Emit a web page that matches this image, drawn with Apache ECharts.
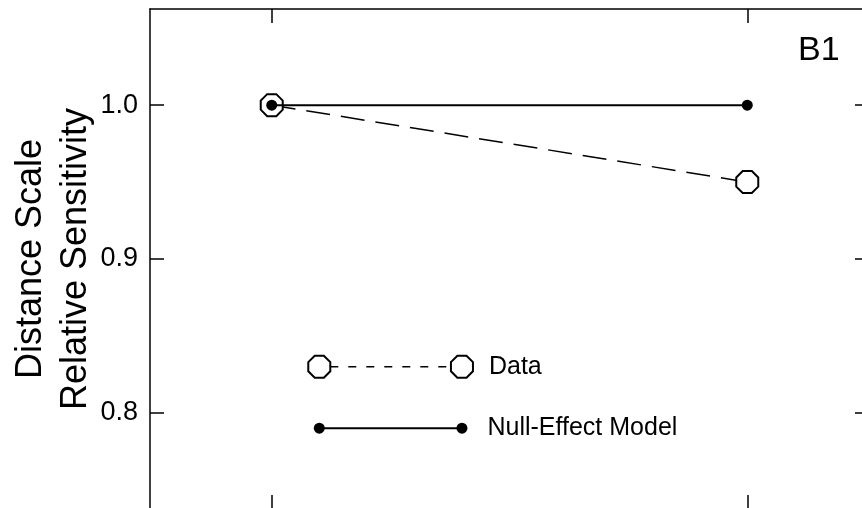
<!DOCTYPE html>
<html>
<head>
<meta charset="utf-8">
<script src="https://cdn.jsdelivr.net/npm/echarts@6/dist/echarts.min.js"></script>
<style>html,body{margin:0;padding:0;background:#fff;}#c{width:862px;height:508px;}</style>
</head>
<body>
<div id="c"></div>
<script>
// ---- data ----
const conditions = [1, 2];
const dataValues = [1.0, 0.95];
const nullValues = [1.0, 1.0];
const yTicks = [0.8, 0.9, 1.0];
const xTicks = [1, 2];
const legendX = [1.1, 1.4];
const legendDataY = [0.83, 0.83];
const legendNullY = [0.79, 0.79];
const yTitle = 'Distance Scale\nRelative Sensitivity';
const panelLabel = 'B1';
const seriesNames = ['Data', 'Null-Effect Model'];

const FONT = '"Liberation Sans", Arial, Helvetica, sans-serif';
const octagon = 'path://M0.293,0 L0.707,0 L1,0.293 L1,0.707 L0.707,1 L0.293,1 L0,0.707 L0,0.293 Z';

function pairs(xs, ys) { return xs.map((x, i) => [x, ys[i]]); }
function legendPairs(xs, ys, name) {
  return xs.map((x, i) => i === xs.length - 1
    ? { value: [x, ys[i]], label: { show: true, formatter: name } }
    : [x, ys[i]]);
}

const chart = echarts.init(document.getElementById('c'), null, { renderer: 'canvas' });
const axisLine = { show: true, onZero: false, lineStyle: { color: '#000', width: 1.5 } };
const tick = (vals) => ({ show: true, inside: true, length: 14, customValues: vals, lineStyle: { color: '#000', width: 1.5 } });

chart.setOption({
  animation: false,
  backgroundColor: '#fff',
  title: {
    text: panelLabel, left: 793, top: 29,
    textStyle: { fontFamily: FONT, fontSize: 34, fontWeight: 'normal', color: '#000' }
  },
  grid: { left: 150, top: 9, width: 719, height: 500, containLabel: false, outerBoundsMode: 'none' },
  xAxis: [
    { type: 'value', position: 'bottom', min: 0.744, max: 2.256,
      axisLine: axisLine, axisTick: tick(xTicks), axisLabel: { show: false }, splitLine: { show: false } },
    { type: 'value', position: 'top', min: 0.744, max: 2.256,
      axisLine: axisLine, axisTick: tick(xTicks), axisLabel: { show: false }, splitLine: { show: false } }
  ],
  yAxis: [
    { type: 'value', position: 'left', min: 0.7375, max: 1.0625,
      axisLine: axisLine, axisTick: tick(yTicks),
      axisLabel: { show: true, customValues: yTicks, formatter: v => v.toFixed(1), margin: 12,
        fontFamily: FONT, fontSize: 27, color: '#000' },
      splitLine: { show: false },
      name: yTitle, nameLocation: 'middle', nameGap: 51, nameRotate: 90, nameMoveOverlap: false,
      nameTextStyle: { fontFamily: FONT, fontSize: 36, color: '#000', lineHeight: 45 } },
    { type: 'value', position: 'right', min: 0.7375, max: 1.0625,
      axisLine: axisLine, axisTick: tick(yTicks), axisLabel: { show: false }, splitLine: { show: false } }
  ],
  series: [
    { name: seriesNames[0], type: 'line', z: 2, data: pairs(conditions, dataValues),
      symbol: octagon, symbolSize: 22,
      itemStyle: { color: '#fff', borderColor: '#000', borderWidth: 2 },
      lineStyle: { color: '#000', width: 1.5, type: [24, 11] } },
    { name: seriesNames[1], type: 'line', z: 3, data: pairs(conditions, nullValues),
      symbol: 'circle', symbolSize: 11,
      itemStyle: { color: '#000', borderWidth: 0 },
      lineStyle: { color: '#000', width: 2 } },
    { name: 'legend-data', type: 'line', z: 2, data: legendPairs(legendX, legendDataY, seriesNames[0]),
      symbol: octagon, symbolSize: 22,
      itemStyle: { color: '#fff', borderColor: '#000', borderWidth: 2 },
      lineStyle: { color: '#000', width: 1.5, type: [8, 10], dashOffset: 7 },
      label: { show: false, position: 'right', distance: 15, fontFamily: FONT, fontSize: 25, color: '#000' } },
    { name: 'legend-null', type: 'line', z: 3, data: legendPairs(legendX, legendNullY, seriesNames[1]),
      symbol: 'circle', symbolSize: 11,
      itemStyle: { color: '#000', borderWidth: 0 },
      lineStyle: { color: '#000', width: 2 },
      label: { show: false, position: 'right', distance: 20, fontFamily: FONT, fontSize: 25, color: '#000' } }
  ]
});
</script>
</body>
</html>
